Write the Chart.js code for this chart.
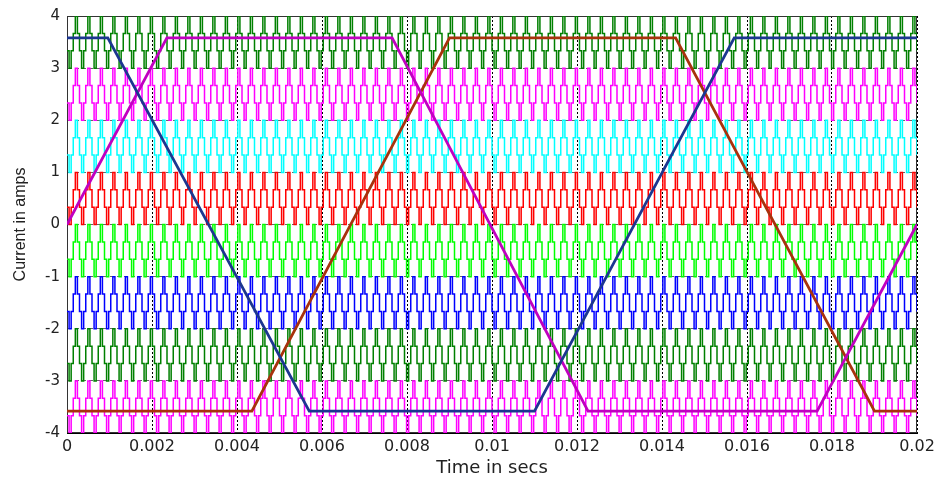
<!DOCTYPE html>
<html>
<head>
<meta charset="utf-8">
<script src="https://cdn.jsdelivr.net/npm/chart.js@4.4.1/dist/chart.umd.min.js"></script>
<style>
  html, body { margin: 0; padding: 0; background: #fff; }
  #wrap { width: 941px; height: 479px; }
</style>
</head>
<body>
<div id="wrap"><canvas id="chart"></canvas></div>
<script>
// ---- Axis ticks ----
const timeTickValues = [0, 0.002, 0.004, 0.006, 0.008, 0.01, 0.012, 0.014, 0.016, 0.018, 0.02];
const timeTickLabels = ["0", "0.002", "0.004", "0.006", "0.008", "0.01", "0.012", "0.014", "0.016", "0.018", "0.02"];
const currentTicks = [-4, -3, -2, -1, 0, 1, 2, 3, 4];

// ---- Level-shifted carriers (one band per amp) ----
const bandLows = [3, 2, 1, 0, -1, -2, -3, -4];
const bandColors = ["#008000", "#ff00ff", "#00ffff", "#ff0000", "#00ff00", "#0000ff", "#008000", "#ff00ff"];
const carrierShape = [1/3, 0, 1/3, 2/3, 1, 2/3];   // one period, sampled (held) values
const carrierPeriods = 68;                          // periods across 0 .. 0.02 s
const tEnd = 0.02;

// ---- Trapezoidal references (break points) ----
const blueT  = [0, 0.00096, 0.0057, 0.0110, 0.0157, 0.02];
const blueI  = [3.58, 3.58, -3.58, -3.58, 3.58, 3.58];
const magT   = [0, 0.00235, 0.00765, 0.01226, 0.01765, 0.02];
const magI   = [0, 3.58, 3.58, -3.58, -3.58, 0];
const brownT = [0, 0.00435, 0.0090, 0.01432, 0.0190, 0.02];
const brownI = [-3.58, -3.58, 3.58, 3.58, -3.58, -3.58];

// build carrier points from the shape
function carrierPoints(low) {
    const pts = [];
    const n = carrierShape.length;
    const dt = tEnd / carrierPeriods / n;
    for (let k = 0; k < carrierPeriods * n; k++) {
        pts.push({ x: k * dt, y: low + carrierShape[k % n] });
    }
    pts.push({ x: tEnd, y: low + carrierShape[0] });
    return pts;
}

function zipPts(ts, vs) {
    return ts.map((t, i) => ({ x: t, y: vs[i] }));
}

const datasets = [];
bandLows.forEach((low, i) => {
    datasets.push({
        data: carrierPoints(low),
        borderColor: bandColors[i],
        borderWidth: 1.5,
        stepped: true,
        pointRadius: 0,
        order: 10
    });
});
datasets.push({ data: zipPts(blueT, blueI),   borderColor: "#1c3690", borderWidth: 2.8, pointRadius: 0, order: 1 });
datasets.push({ data: zipPts(magT, magI),     borderColor: "#c000c0", borderWidth: 2.8, pointRadius: 0, order: 2 });
datasets.push({ data: zipPts(brownT, brownI), borderColor: "#a8320c", borderWidth: 2.8, pointRadius: 0, order: 3 });

// axes box (top/right sides too)
const boxPlugin = {
    id: "box",
    beforeDatasetsDraw(chart) {
        const a = chart.chartArea, ctx = chart.ctx;
        ctx.save();
        ctx.strokeStyle = "#333";
        ctx.lineWidth = 1;
        ctx.strokeRect(a.left + 0.5, a.top + 0.5, a.right - a.left - 1, a.bottom - a.top - 1);
        ctx.restore();
    }
};

new Chart(document.getElementById("chart"), {
    type: "line",
    data: { datasets },
    plugins: [boxPlugin],
    options: {
        responsive: true,
        maintainAspectRatio: false,
        animation: false,
        events: [],
        layout: { padding: { left: 0, top: 14, right: 24, bottom: 0 } },
        plugins: { legend: { display: false }, tooltip: { enabled: false } },
        scales: {
            x: {
                type: "linear",
                min: 0,
                max: 0.02,
                afterBuildTicks: s => { s.ticks = timeTickValues.map(v => ({ value: v })); },
                afterFit: s => { s.height = 46; },
                ticks: {
                    padding: 4,
                    color: "#222",
                    maxRotation: 0,
                    autoSkip: false,
                    font: { family: "DejaVu Sans", size: 16 },
                    callback: (v, i) => timeTickLabels[i]
                },
                grid: { color: "#000", lineWidth: 1, drawTicks: false },
                border: { color: "#000", dash: [2, 2] },
                title: {
                    display: true,
                    text: "Time in secs",
                    color: "#222",
                    font: { family: "DejaVu Sans", size: 18 },
                    padding: { top: 0, bottom: 0 }
                }
            },
            y: {
                min: -4,
                max: 4,
                afterBuildTicks: s => { s.ticks = currentTicks.map(v => ({ value: v })); },
                afterFit: s => { s.width = 67; },
                ticks: {
                    padding: 7,
                    color: "#222",
                    font: { family: "DejaVu Sans", size: 15 },
                    callback: v => String(v)
                },
                grid: { color: "#666", lineWidth: 1, drawTicks: false },
                border: { color: "#000", dash: [4, 3] },
                title: {
                    display: true,
                    text: "Current in amps",
                    color: "#222",
                    font: { family: "Liberation Sans", size: 16 },
                    padding: { top: 11, bottom: 0 }
                }
            }
        }
    }
});
</script>
</body>
</html>
